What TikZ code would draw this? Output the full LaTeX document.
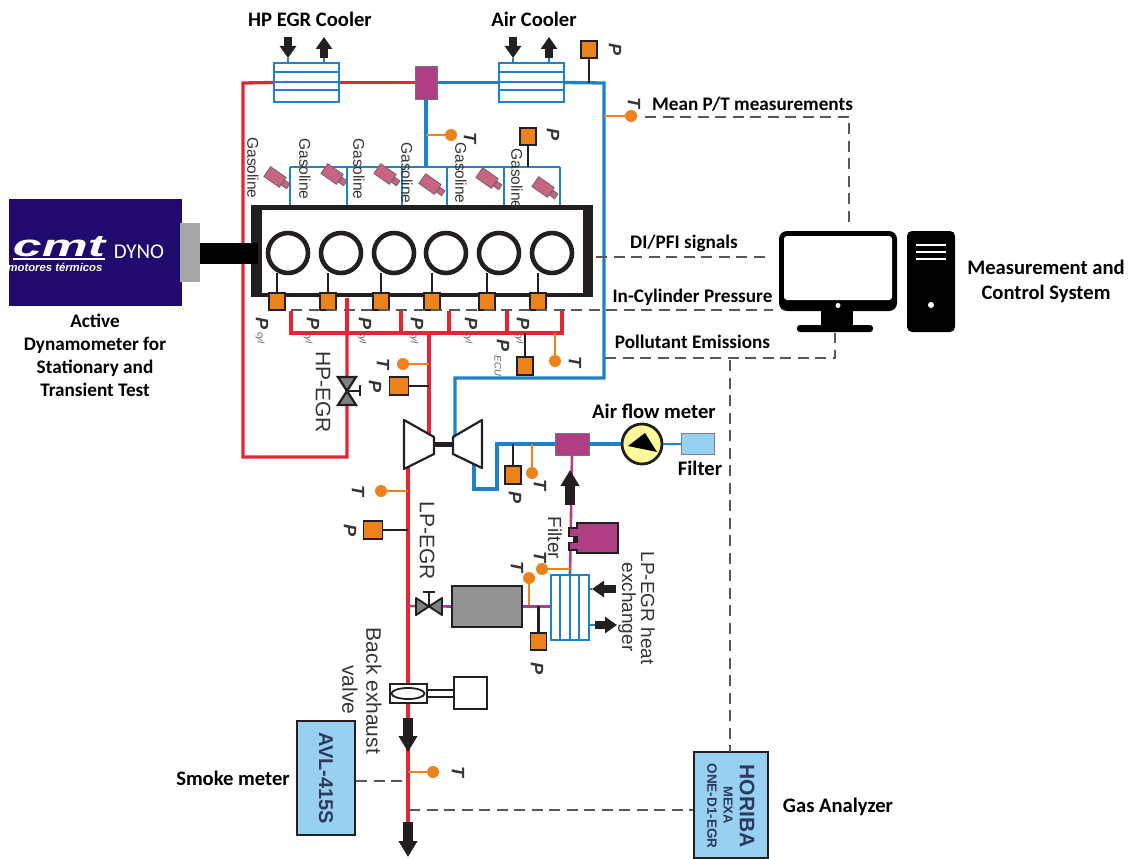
\documentclass[tikz,border=0pt]{standalone}
\usepackage{fontspec}
\setmainfont{Carlito}
\newfontfamily\arialf{Liberation Sans}
\usetikzlibrary{arrows.meta,calc,shapes.geometric}
\definecolor{ink}{RGB}{35,31,32}
\definecolor{redp}{RGB}{226,38,52}
\definecolor{bluep}{RGB}{30,130,200}
\definecolor{orng}{RGB}{236,130,28}
\definecolor{magp}{RGB}{176,62,130}
\definecolor{pinkb}{RGB}{200,100,130}
\definecolor{dashc}{RGB}{88,88,88}
\definecolor{txtc}{RGB}{52,52,52}
\definecolor{lblue}{RGB}{152,208,242}
\definecolor{dynob}{RGB}{32,10,110}
\definecolor{anac}{RGB}{45,58,92}
\tikzset{
  % Leitungen
  redline/.style={redp, line width=3.3pt},
  blueline/.style={bluep, line width=3.3pt},
  magline/.style={magp, line width=2.6pt},
  orline/.style={orng, line width=2.6pt},
  stem/.style={ink, line width=2.3pt},
  sig/.style={dashc, line width=2.1pt, dash pattern=on 11pt off 6.5pt},
  fat/.style={ink, line width=9.5pt, -{Triangle[length=16pt,width=18pt]}},
  fatsmall/.style={ink, line width=8pt, -{Triangle[length=12pt,width=16pt]}},
  % Bauteile
  sensor/.style={draw=ink, line width=1.9pt, fill=orng, minimum width=16pt, minimum height=17.5pt, inner sep=0pt},
  tdot/.style={circle, fill=orng, inner sep=0pt, minimum size=12pt},
  cooler/.style={draw=bluep, line width=2pt, fill=white, inner sep=0pt},
  mixer/.style={draw=black!55, line width=0.8pt, fill=magp, inner sep=0pt},
  injector/.style={draw=ink!70, line width=0.7pt, fill=pinkb, minimum width=19pt, minimum height=12pt, inner sep=0pt, rotate=-35},
  nozzle/.style={draw=ink!70, line width=0.7pt, fill=pinkb, minimum width=6pt, minimum height=6pt, inner sep=0pt, rotate=-35},
  cyl/.style={circle, draw=ink, line width=4.6pt, fill=white, minimum size=40pt, inner sep=0pt},
  analyzer/.style={draw=ink, line width=2pt, fill=lblue, inner sep=0pt},
  plainbox/.style={draw=ink, line width=1.9pt, fill=white, inner sep=0pt},
  % Beschriftung
  bt/.style={font=\fontsize{20.6}{25}\selectfont\bfseries, black, align=center, inner sep=0pt},
  bts/.style={font=\fontsize{19.2}{23}\selectfont\bfseries, black, align=center, inner sep=0pt},
  rt/.style={font=\arialf\fontsize{#1}{#1}\selectfont, txtc, rotate=-90, inner sep=0pt},
  rt/.default=19,
  sym/.style={font=\arialf\fontsize{18}{18}\selectfont\bfseries\itshape, txtc, rotate=-90, inner sep=0pt},
  sub/.style={font=\arialf\fontsize{9.5}{10}\selectfont\itshape, txtc!80, rotate=-90, inner sep=0pt},
  gas/.style={font=\arialf\fontsize{15.5}{16}\selectfont, txtc, rotate=-90, inner sep=0pt},
  ana/.style={font=\arialf\fontsize{#1}{#1}\selectfont\bfseries, anac, rotate=-90, inner sep=0pt},
}
\begin{document}
\begin{tikzpicture}[x=1pt,y=-1pt,line cap=butt]
  \useasboundingbox (0,0) rectangle (1132,859);
  % Koordinaten der Leitungen
  \coordinate (airend) at (604,83);
  \coordinate (airlow) at (604,378);
  \coordinate (airtur) at (455,378);
  \coordinate (airin) at (455,436);
  \coordinate (egrtl) at (243,83);
  \coordinate (egrbl) at (243,457);
  \coordinate (egrbr) at (347,457);
  \coordinate (egrtop) at (347,298);
  \coordinate (collL) at (291,333);
  \coordinate (collR) at (562,333);
  \coordinate (colldown) at (429,333);
  \coordinate (turin) at (429,442);
  \coordinate (turout) at (408,466);
  \coordinate (exend) at (408,823);
  \coordinate (manL) at (290,167);
  \coordinate (manR) at (560,167);
  \coordinate (comp1) at (474,464);
  \coordinate (comp2) at (474,489);
  \coordinate (comp3) at (497,489);
  \coordinate (comp4) at (497,444);
  % Kühler und Mischer
  \node[cooler, minimum width=65pt, minimum height=39pt] (hpc) at (306.5,82.5) {};
  \node[cooler, minimum width=65pt, minimum height=39pt] (acc) at (531.5,82.5) {};
  \node[mixer, minimum width=22pt, minimum height=33pt] (mixa) at (426,82.5) {};
  \node[mixer, minimum width=34pt, minimum height=22pt] (mixb) at (572,444) {};
  % Hochdruck-AGR und Luftweg
  \draw[redline, line join=miter] (mixa.west) -- (hpc.east);
  \draw[redline, line join=miter] (hpc.west) -- (egrtl) -- (egrbl) -- (egrbr) -- (egrtop);
  \draw[blueline, line join=miter] (mixa.east) -- (acc.west);
  \draw[blueline, line join=miter] (acc.east) -- (airend) -- (airlow) -- (airtur) -- (airin);
  \draw[blueline] (mixa.south) -- (426,167);
  \draw[blueline, line join=miter] (comp1) -- (comp2) -- (comp3) -- (comp4) -- (mixb.west);
  \foreach \cn in {hpc,acc} {
    \draw[cooler] (\cn.north west) ++(0,10) -- ++(65,0) ++(-65,10) -- ++(65,0) ++(-65,8) -- ++(65,0);
  }
  % Einspritzventile
  \draw[blueline, line width=2.8pt] (manL) -- (manR);
  \foreach \mx in {290,347,402,447,504,560} {
    \draw[blueline, line width=2.8pt] (\mx,167) -- (\mx,206);
  }
  % Motorblock
  \node[fill=ink, minimum width=342pt, minimum height=92pt, inner sep=0pt] (engine) at (422,251) {};
  \node[fill=white, minimum width=321pt, minimum height=83pt, inner sep=0pt] (bore) at (422.5,251.5) {};
  \foreach \n/\cx/\sx in {1/288/277,2/341/328,3/394/381,4/446/432,5/499/487,6/552/538} {
    \node[sensor] (pc\n) at (\sx,301.5) {};
    \node[cyl] (cy\n) at (\cx,253) {};
    \draw[stem] (pc\n.north) -- (\sx,273);
  }
  \foreach \n/\ix/\iy in {1/275/177,2/332/174,3/385/174,4/430/184,5/487/178,6/543/187} {
    \node[injector] (inj\n) at (\ix,\iy) {};
    \node[nozzle, anchor=west] (noz\n) at (inj\n.east) {};
  }
  \foreach \gx/\gy in {253/168,305/169,359/169,407/173,461/173,517/179} {
    \node[gas] at (\gx,\gy) {Gasoline};
  }
  % Abgassammler
  \draw[sig] (291,310) -- (773,310);
  \draw[redline, line join=miter] (291,311) -- (collL) -- (collR) -- (562,311);
  \foreach \rx in {347,401,449,507} {
    \draw[redline] (\rx,311) -- (\rx,333);
  }
  \draw[redline] (egrtop) -- (347,333);
  \draw[redline] (colldown) -- (turin);
  \draw[redline] (turout) -- (exend);
  % Druck- und Temperaturstellen
  \node[sensor] (pair) at (589,49.5) {};
  \draw[stem] (pair) -- (pair |- airend);
  \node[sym] at (615,50) {P};
  \node[tdot] (tair) at (631,116) {};
  \draw[orline] (tair) -- (tair -| airend);
  \node[sym] at (634,103) {T};
  \node[tdot] (tman) at (451,135) {};
  \draw[orline] (tman) -- (426,135);
  \node[sym] at (470,138) {T};
  \node[sensor] (pman) at (528,136.5) {};
  \draw[stem] (pman) -- (pman |- manR);
  \node[sym] at (553,135) {P};
  \node[sensor] (pecu) at (525,366) {};
  \draw[stem] (pecu) -- (pecu |- collR);
  \node[sym] at (503,345) {P};
  \node[sub] at (498,366) {ECU};
  \node[tdot] (tcol) at (555,361) {};
  \draw[orline] (tcol) -- (tcol |- collR);
  \node[sym] at (575,362) {T};
  \foreach \px/\sx in {262/260,313/308,365/362,417/414,471/468,523/519} {
    \node[sym] at (\px,323) {P};
    \node[sub] at (\sx,338) {cyl};
  }
  \node[tdot] (tdown) at (403,364) {};
  \draw[orline] (tdown) -- (tdown -| colldown);
  \node[sym] at (383,364) {T};
  \node[sensor, minimum width=19pt] (pdown) at (399,386) {};
  \draw[stem] (pdown) -- (pdown -| colldown);
  \node[sym] at (375,386) {P};
  % HP-Ventil
  \node[inner sep=0pt] (vhp) at (347,391) {};
  \draw[stem, fill=gray] (338,377) -- (356,377) -- (338,405) -- (356,405) -- cycle;
  \draw[stem] (vhp) -- (360,391) (360,385) -- (360,396);
  \node[rt=21] at (323,392) {HP-EGR};
  % Turbolader
  \draw[ink, line width=2.2pt, fill=white, line join=round] (404,420) -- (434,437) -- (434,454) -- (404,469) -- cycle;
  \draw[ink, line width=2.2pt, fill=white, line join=round] (482,420) -- (453,437) -- (453,454) -- (482,468) -- cycle;
  \draw[ink, line width=5pt] (434,444) -- (453,444);
  % Ansaugstrecke
  \node[circle, draw=ink, line width=2.8pt, fill=yellow!40!white, minimum size=40pt, inner sep=0pt] (afm) at (642,444) {};
  \fill[black] (628,446) -- (645,433) -- (657,452) -- cycle;
  \node[draw=black!50, line width=1.5pt, fill=lblue, minimum width=33pt, minimum height=21pt, inner sep=0pt] (filt) at (698,444) {};
  \draw[blueline] (mixb.east) -- (afm.west);
  \draw[bluep, line width=1.5pt] (afm.east) -- (filt.west);
  \node[bt] at (654,411) {Air flow meter};
  \node[bt] at (700,468) {Filter};
  \node[sensor] (pcomp) at (513,475) {};
  \draw[stem] (pcomp) -- (pcomp |- comp4);
  \node[sym] at (515,497) {P};
  \node[tdot] (tcomp) at (532,473) {};
  \draw[orline] (tcomp) -- (tcomp |- comp4);
  \node[sym] at (540,485) {T};
  \node[tdot] (texh) at (381,491) {};
  \draw[orline] (texh) -- (texh -| exend);
  \node[sym] at (358,491) {T};
  \node[sensor, minimum width=19pt] (pexh) at (373,530) {};
  \draw[stem] (pexh) -- (pexh -| exend);
  \node[sym] at (350,530) {P};
  % Niederdruck-AGR
  \node[cooler, minimum width=38pt, minimum height=65pt] (lpc) at (570,607.5) {};
  \foreach \vx in {560,570,579} {
    \draw[bluep, line width=1.7pt] (\vx,575) -- (\vx,640);
  }
  \node[draw=ink, line width=2pt, fill=gray!85, minimum width=70pt, minimum height=41pt, inner sep=0pt] (egrbox) at (487,606.5) {};
  \draw[magline] (408,606) -- (egrbox.west);
  \draw[magline] (egrbox.east) -- (egrbox.east -| lpc.west);
  \draw[magline] (mixb.south) -- (lpc.north);
  \draw[ink, line width=1.9pt, fill=gray, line join=round] (416,598) -- (416,615) -- (442,598) -- (442,615) -- cycle;
  \draw[stem] (429,606) -- (429,592) (423,592) -- (435,592);
  \node[rt=21] at (427,541) {LP-EGR};
  \node[sensor] (plp) at (538.5,641.5) {};
  \draw[stem] (plp) -- (538.5,606);
  \node[sym] at (537,668) {P};
  \node[tdot] (tlp1) at (529,578) {};
  \draw[orline] (tlp1) -- (529,605);
  \node[sym] at (517,567) {T};
  \node[tdot] (tlp2) at (542,569) {};
  \draw[orline] (tlp2) -- (570,569);
  \node[sym] at (540,557) {T};
  \node[rt] at (555,538) {Filter};
  % Filter
  \node[draw=ink, line width=2pt, fill=magp, minimum width=41pt, minimum height=30pt, inner sep=0pt] (filtb) at (597.5,538) {};
  \fill[ink] (568,527) rectangle (578,551);
  \fill[magp] (570,529) rectangle (578,535.5);
  \fill[magp] (570,542.5) rectangle (578,549);
  \fill[white] (568,536.5) rectangle (573,541.5);
  \node[rt] at (648,608) {LP-EGR heat};
  \node[rt] at (627,607) {exchanger};
  % Dicke Pfeile
  \foreach \ax/\ay/\bx/\by in {288/37/288/58,324/58/324/37,513/37/513/58,549/58/549/37,616/589/592/589,595/625/617/625} {
    \draw[fatsmall] (\ax,\ay) -- (\bx,\by);
  }
  \foreach \ax/\ay/\bx/\by in {570/505/570/470,408/718/408/752,408/822/408/857} {
    \draw[fat] (\ax,\ay) -- (\bx,\by);
  }
  \foreach \sx in {288,324,513,549} {
    \draw[bluep, line width=1.8pt] (\sx,58) -- (\sx,63);
  }
  \draw[bluep, line width=1.8pt] (589,589) -- (592,589) (589,625) -- (595,625);
  % Abgasklappe
  \node[plainbox, minimum width=37pt, minimum height=19pt] (flap) at (408.5,693.5) {};
  \node[ellipse, draw=ink, line width=1.8pt, fill=white, minimum width=33pt, minimum height=11pt, inner sep=0pt] (disc) at (408,693.5) {};
  \node[plainbox, minimum width=33pt, minimum height=32pt] (act) at (470.5,693) {};
  \draw[stem, line width=1.6pt] (flap.east |- 0,690) -- (act.west |- 0,690) (flap.east |- 0,697) -- (act.west |- 0,697);
  \node[rt=21] at (374,691) {Back exhaust};
  \node[rt=21] at (350,690) {valve};
  % Analysatoren
  \node[tdot] (tend) at (433,772) {};
  \draw[orline] (tend) -- (tend -| exend);
  \node[sym] at (458,772) {T};
  \node[analyzer, minimum width=58pt, minimum height=114pt] (avl) at (326,778) {};
  \node[ana=20] at (326,778) {AVL-415S};
  \node[analyzer, minimum width=74pt, minimum height=106pt] (horiba) at (731,805) {};
  \node[ana=21] at (747,806) {HORIBA};
  \node[ana=13] at (728,805) {MEXA};
  \node[ana=13.5] at (712,806) {ONE-D1-EGR};
  \draw[sig] (avl.east |- 0,781) -- (406,781);
  \draw[sig] (409,810) -- (horiba.west |- 0,810);
  \node[bt] at (233,778) {Smoke meter};
  \node[bt] at (838,807) {Gas Analyzer};
  % Messrechner
  \fill[black, rounded corners=8pt] (779,231) rectangle (897,311);
  \fill[white, rounded corners=3pt] (784,236) rectangle (892,300);
  \fill[white] (838,305.5) circle (2.5);
  \fill[black] (821,310) rectangle (853,327);
  \fill[black, rounded corners=3pt] (797,325) rectangle (873,332);
  \fill[black, rounded corners=5pt] (907,231) rectangle (955,332);
  \foreach \ty in {245,252,259} {
    \draw[white, line width=1.2pt] (916,\ty) -- (946,\ty);
  }
  \fill[white] (931,305) circle (3);
  \draw[sig] (645,117) -- (849,117) -- (849,225);
  \draw[sig] (596,257) -- (771,257);
  \draw[sig] (605,358) -- (835,358) -- (835,333);
  \draw[sig] (730,360) -- (730,752);
  \node[bts] at (752.5,104) {Mean P/T measurements};
  \node[bts] at (684,243) {DI/PFI signals};
  \node[bts] at (692.5,297) {In-Cylinder Pressure};
  \node[bts] at (692.5,342) {Pollutant Emissions};
  \node[bt] at (1046,281) {Measurement and\\Control System};
  \node[bt] at (310,19) {HP EGR Cooler};
  \node[bt] at (534,19) {Air Cooler};
  % Dynamometer
  \node[fill=dynob, minimum width=173pt, minimum height=107pt, inner sep=0pt] (dyno) at (95.5,252.5) {};
  \node[fill=black!35, minimum width=20pt, minimum height=59pt, inner sep=0pt] (flange) at (190,252.5) {};
  \node[fill=black, minimum width=58pt, minimum height=21pt, inner sep=0pt] (shaft) at (229,253.5) {};
  \node[white, inner sep=0pt] (logo) at (59,246.5) {\resizebox{92pt}{20pt}{\arialf\bfseries\itshape cmt}};
  \fill[white] (13,257.5) rectangle (105,259.5);
  \node[white, inner sep=0pt, font=\arialf\fontsize{11.3}{12}\selectfont\bfseries\itshape] (mot) at (55,267) {motores térmicos};
  \node[white, inner sep=0pt, font=\fontsize{21}{21}\selectfont] (dn) at (139,252) {DYNO};
  \node[bts] at (95,355.5) {Active\\Dynamometer for\\Stationary and\\Transient Test};
\end{tikzpicture}
\end{document}
